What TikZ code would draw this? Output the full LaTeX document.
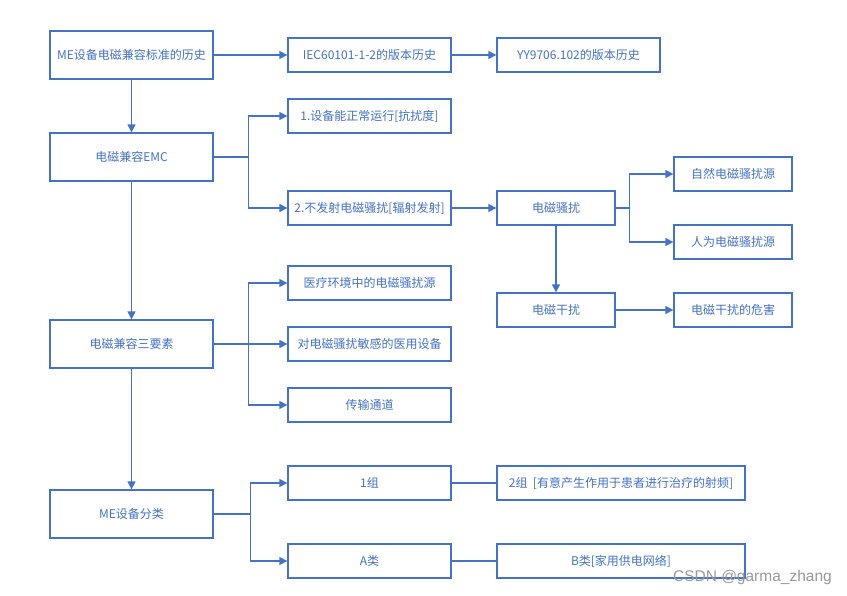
\documentclass[tikz,border=0pt]{standalone}
\usepackage{fontspec}
\newfontfamily\cjkf{Noto Sans CJK SC}
\newfontfamily\wmf{Liberation Sans}
\usetikzlibrary{arrows.meta}
\definecolor{bblue}{HTML}{4472C4}
\tikzset{
  bx/.style={draw=bblue, line width=1.3pt, inner sep=0pt, text=bblue, font=\cjkf\fontsize{12}{14}\selectfont, fill=white},
  big/.style={bx, minimum width=163pt, minimum height=48pt},
  sm/.style={bx, minimum width=163pt, minimum height=34pt},
  nar/.style={bx, minimum width=118pt, minimum height=34pt},
  wide/.style={bx, minimum width=248pt, minimum height=34pt},
  arr/.style={draw=bblue, line width=1.4pt, -{Triangle[length=8pt,width=8pt]}},
  ln/.style={draw=bblue, line width=1.4pt},
}
\begin{document}
\begin{tikzpicture}[x=1pt,y=-1pt]
\useasboundingbox[fill=white] (0,0) rectangle (847,596);
% left column
\node[big] (A) at (131.5,55) {ME设备电磁兼容标准的历史};
\node[big] (B) at (131.5,157) {电磁兼容EMC};
\node[big] (C) at (131.5,344) {电磁兼容三要素};
\node[big] (D) at (131.5,514) {ME设备分类};
% second column
\node[sm] (iec) at (369.5,55) {IEC60101-1-2的版本历史};
\node[sm] (e1) at (369.5,116) {1.设备能正常运行[抗扰度]};
\node[sm] (e2) at (369.5,208) {2.不发射电磁骚扰[辐射发射]};
\node[sm] (m1) at (369.5,283) {医疗环境中的电磁骚扰源};
\node[sm] (m2) at (369.5,344) {对电磁骚扰敏感的医用设备};
\node[sm] (m3) at (369.5,405) {传输通道};
\node[sm] (g1) at (369.5,483) {1组};
\node[sm] (ca) at (369.5,561) {A类};
% third column
\node[sm] (yy) at (578.5,55) {YY9706.102的版本历史};
\node[nar] (ds) at (556,208) {电磁骚扰};
\node[nar] (di) at (556,310) {电磁干扰};
\node[wide] (g2) at (621,483) {2组\ \ [有意产生作用于患者进行治疗的射频]};
\node[wide] (cb) at (621,561) {B类[家用供电网络]};
% fourth column
\node[nar] (nat) at (733,174) {自然电磁骚扰源};
\node[nar] (man) at (733,242) {人为电磁骚扰源};
\node[nar] (harm) at (733,310) {电磁干扰的危害};
% connectors
\draw[arr] (A.east) -- (iec.west);
\draw[arr] (iec.east) -- (yy.west);
\draw[arr] (A.south) -- (B.north);
\draw[arr] (B.east) -- ++(35,0) |- (e1.west);
\draw[arr] (B.east) -- ++(35,0) |- (e2.west);
\draw[arr] (B.south) -- (C.north);
\draw[arr] (e2.east) -- (ds.west);
\draw[arr] (ds.east) -- ++(14,0) |- (nat.west);
\draw[arr] (ds.east) -- ++(14,0) |- (man.west);
\draw[arr] (ds.south) -- (di.north);
\draw[arr] (di.east) -- (harm.west);
\draw[arr] (C.east) -- ++(35,0) |- (m1.west);
\draw[arr] (C.east) -- (m2.west);
\draw[arr] (C.east) -- ++(35,0) |- (m3.west);
\draw[arr] (C.south) -- (D.north);
\draw[arr] (D.east) -- ++(37,0) |- (g1.west);
\draw[arr] (D.east) -- ++(37,0) |- (ca.west);
\draw[ln] (g1.east) -- (g2.west);
\draw[ln] (ca.east) -- (cb.west);
% watermark
\node[anchor=east, inner sep=0pt, text=black!40, font=\wmf\fontsize{15.5}{17}\selectfont] (wm) at (832,577) {CSDN @garma\_zhang};
\end{tikzpicture}
\end{document}
